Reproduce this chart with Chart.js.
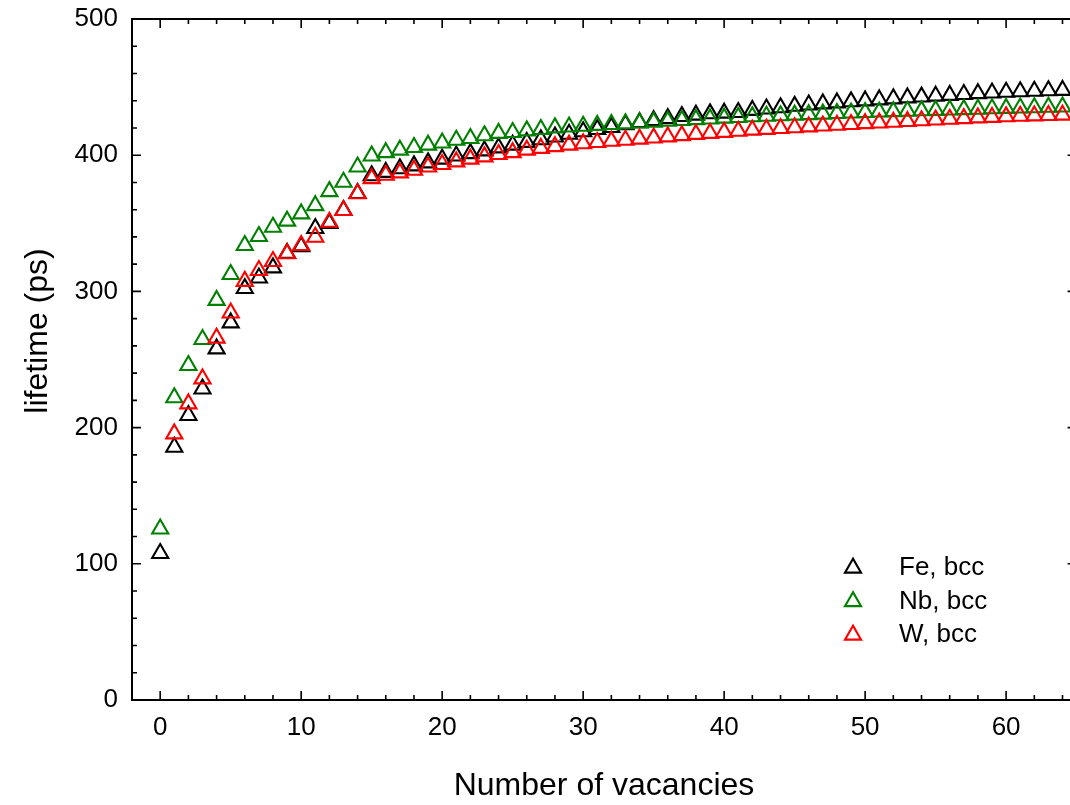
<!DOCTYPE html>
<html>
<head>
<meta charset="utf-8">
<title>lifetime vs vacancies</title>
<script src="https://cdn.jsdelivr.net/npm/chart.js@4.4.1/dist/chart.umd.min.js"></script>
<style>
    html, body { margin: 0; padding: 0; background: #fff; overflow: hidden; }
    #wrap { width: 1088px; height: 805px; }
</style>
</head>
<body>
<div id="wrap"><canvas id="chart" width="1088" height="805"></canvas></div>
<script>
// data
const vacancies = [
    0, 1, 2, 3, 4, 5, 6, 7, 8, 9, 10, 11, 12, 13, 14, 15, 16, 17, 18, 19,
    20, 21, 22, 23, 24, 25, 26, 27, 28, 29, 30, 31, 32, 33, 34, 35, 36, 37, 38, 39,
    40, 41, 42, 43, 44, 45, 46, 47, 48, 49, 50, 51, 52, 53, 54, 55, 56, 57, 58, 59,
    60, 61, 62, 63, 64
];
const feBcc = [
    107.7, 185.7, 209.0, 228.5, 257.9, 277.0, 302.2, 310.0, 317.4, 328.0,
    333.0, 346.3, 350.0, 359.5, 372.0, 385.0, 387.5, 390.2, 392.3, 394.5,
    397.2, 399.5, 401.3, 403.3, 405.5, 407.5, 409.5, 411.5, 413.5, 415.5,
    417.3, 419.0, 420.5, 422.5, 424.0, 425.5, 427.0, 428.5, 429.5, 430.5,
    431.0, 431.5, 433.0, 434.0, 435.0, 436.0, 437.0, 437.8, 438.5, 439.3,
    440.0, 440.7, 441.5, 442.2, 442.8, 443.5, 444.0, 444.7, 445.3, 445.8,
    446.3, 446.7, 447.1, 447.4, 447.7
];
const nbBcc = [
    125.7, 222.0, 245.7, 264.8, 293.5, 312.5, 333.8, 340.4, 347.2, 351.7,
    357.0, 363.1, 373.4, 380.3, 391.5, 399.5, 402.0, 403.8, 405.8, 407.5,
    409.1, 411.1, 412.4, 414.4, 416.1, 416.8, 418.0, 419.0, 420.2, 420.8,
    421.4, 422.0, 422.6, 423.2, 423.8, 424.4, 425.0, 425.6, 426.2, 426.7,
    427.3, 427.8, 428.3, 428.7, 429.1, 429.5, 429.9, 430.3, 430.7, 431.1,
    431.5, 431.8, 432.1, 432.4, 432.7, 433.0, 433.3, 433.6, 433.9, 434.2,
    434.5, 434.8, 435.0, 435.3, 435.5
];
const wBcc = [
    null, 195.5, 217.5, 235.9, 265.8, 284.3, 307.5, 315.5, 322.1, 327.7,
    333.8, 339.9, 350.9, 359.5, 371.8, 382.9, 385.4, 387.1, 389.1, 391.5,
    393.3, 395.2, 397.2, 398.9, 400.6, 402.0, 403.8, 405.1, 406.4, 407.5,
    408.5, 409.4, 410.3, 411.1, 411.9, 412.7, 413.6, 414.5, 415.4, 416.1,
    416.9, 417.7, 418.5, 419.1, 419.7, 420.3, 420.9, 421.5, 422.1, 422.7,
    423.3, 423.8, 424.3, 424.8, 425.4, 426.0, 426.5, 427.0, 427.5, 427.9,
    428.3, 428.7, 429.0, 429.3, 429.5
];
const seriesNames = ['Fe, bcc', 'Nb, bcc', 'W, bcc'];
const seriesColors = ['#000000', '#008000', '#ff0000'];
const xTickLabels = [0, 10, 20, 30, 40, 50, 60];
const yTickLabels = [0, 100, 200, 300, 400, 500];

const FONT = "'Liberation Sans', Arial, Helvetica, sans-serif";
const MARKER_R = 9.3;
const MARKER_W = 2.1;

function toPoints(ys) {
    return vacancies.map((x, i) => ({ x: x, y: ys[i] }));
}

function triangle(ctx, x, y, r) {
    const s = Math.sin(Math.PI / 3) * r;
    ctx.beginPath();
    ctx.moveTo(x, y - r);
    ctx.lineTo(x - s, y + r / 2);
    ctx.lineTo(x + s, y + r / 2);
    ctx.closePath();
}

// no extra room for the end labels, the frame is placed by hand
function noPad(s) {
    s.paddingLeft = 0;
    s.paddingRight = 0;
    s.paddingTop = 0;
    s.paddingBottom = 0;
}

// frame with inward ticks on all four sides, axis titles and legend
const framePlugin = {
    id: 'frame',
    afterDraw(chart) {
        const ctx = chart.ctx;
        const a = chart.chartArea;
        const xs = chart.scales.x;
        const ys = chart.scales.y;
        ctx.save();
        ctx.strokeStyle = '#000';
        ctx.lineWidth = 2;
        ctx.strokeRect(a.left, a.top, a.right - a.left, a.bottom - a.top);

        ctx.lineWidth = 1.6;
        ctx.beginPath();
        for (let v = 0; v <= 64; v += 2) {
            const px = xs.getPixelForValue(v);
            const len = v % 10 === 0 ? 9 : 5;
            ctx.moveTo(px, a.bottom); ctx.lineTo(px, a.bottom - len);
            ctx.moveTo(px, a.top); ctx.lineTo(px, a.top + len);
        }
        for (let v = 20; v < 500; v += 20) {
            const py = ys.getPixelForValue(v);
            const len = v % 100 === 0 ? 9 : 5;
            ctx.moveTo(a.left, py); ctx.lineTo(a.left + len, py);
            ctx.moveTo(a.right, py); ctx.lineTo(a.right - len, py);
        }
        ctx.stroke();

        // axis titles
        ctx.fillStyle = '#000';
        ctx.font = '32px ' + FONT;
        ctx.textAlign = 'center';
        ctx.textBaseline = 'middle';
        ctx.fillText('Number of vacancies', 604, 786);
        ctx.save();
        ctx.translate(38, 331);
        ctx.rotate(-Math.PI / 2);
        ctx.fillText('lifetime (ps)', 0, 0);
        ctx.restore();

        // legend
        ctx.font = '26px ' + FONT;
        ctx.textAlign = 'left';
        seriesNames.forEach((name, i) => {
            const y = 566 + i * 33.5;
            ctx.strokeStyle = seriesColors[i];
            ctx.lineWidth = MARKER_W;
            triangle(ctx, 853, y + 2, MARKER_R);
            ctx.stroke();
            ctx.fillStyle = '#000';
            ctx.fillText(name, 899, y + 2);
        });
        ctx.restore();
    }
};

const datasets = [feBcc, nbBcc, wBcc].map((ys, i) => ({
    label: seriesNames[i],
    data: toPoints(ys),
    showLine: false,
    pointStyle: 'triangle',
    pointRadius: MARKER_R,
    pointBorderWidth: MARKER_W,
    pointBorderColor: seriesColors[i],
    pointBackgroundColor: 'rgba(0,0,0,0)',
    order: 2 - i,
    clip: false
}));

new Chart(document.getElementById('chart'), {
    type: 'scatter',
    data: { datasets: datasets },
    options: {
        responsive: false,
        animation: false,
        events: [],
        layout: { padding: { top: 19, right: 4, left: 0, bottom: 0 } },
        plugins: {
            legend: { display: false },
            tooltip: { enabled: false }
        },
        scales: {
            x: {
                type: 'linear',
                min: -2,
                max: 65,
                grid: { display: false, drawTicks: false },
                border: { display: false },
                afterBuildTicks: (s) => { s.ticks = xTickLabels.map(v => ({ value: v })); },
                afterFit: (s) => { s.height = 105; noPad(s); },
                ticks: {
                    color: '#000',
                    font: { family: FONT, size: 26 },
                    padding: 12,
                    maxRotation: 0,
                    autoSkip: false
                }
            },
            y: {
                type: 'linear',
                min: 0,
                max: 500,
                grid: { display: false, drawTicks: false },
                border: { display: false },
                afterBuildTicks: (s) => { s.ticks = yTickLabels.map(v => ({ value: v })); },
                afterFit: (s) => { s.width = 132; noPad(s); },
                ticks: {
                    color: '#000',
                    font: { family: FONT, size: 26 },
                    padding: 14
                }
            }
        }
    },
    plugins: [framePlugin]
});
</script>
</body>
</html>
